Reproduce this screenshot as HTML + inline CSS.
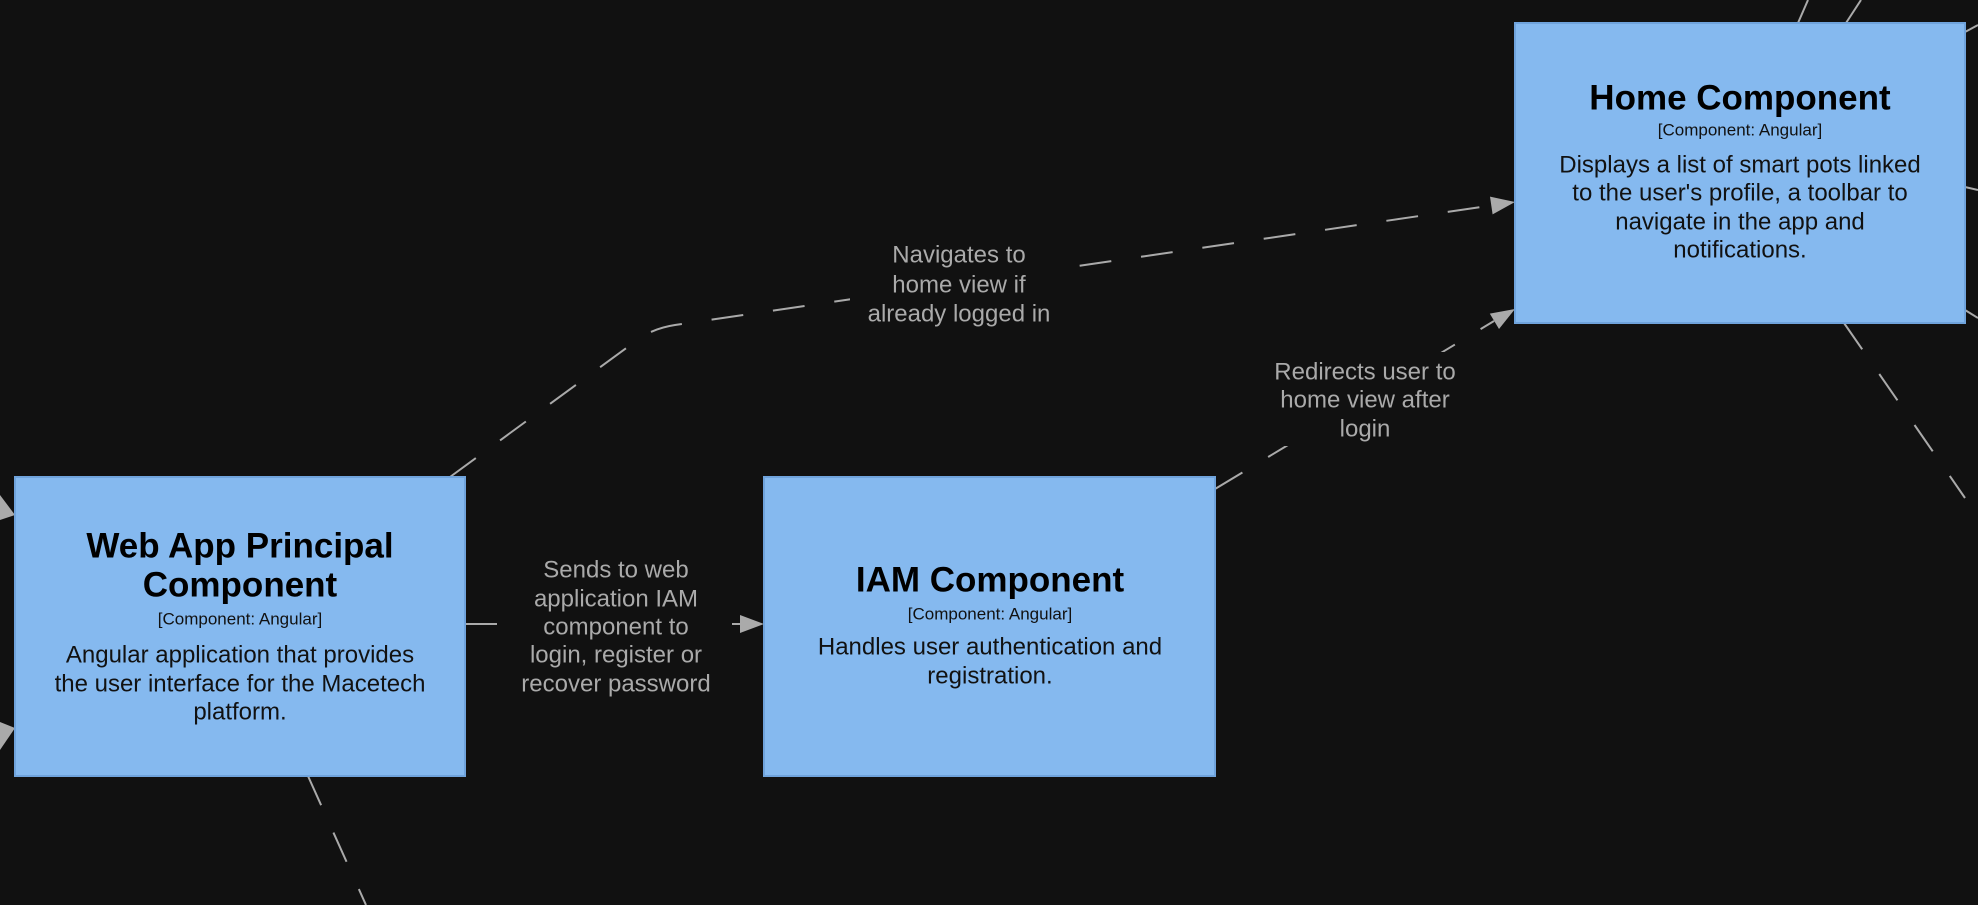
<!DOCTYPE html>
<html><head><meta charset="utf-8"><style>
html,body{margin:0;padding:0;background:#111111;}
svg{display:block;}
text{font-family:"Liberation Sans",sans-serif;}
.t{font-size:35px;font-weight:bold;fill:#000;}
.k{font-size:17px;fill:#111;}
.d{font-size:24px;fill:#111;}
.l{font-size:24px;fill:#aaaaaa;}
</style></head><body>
<svg width="1978" height="905" viewBox="0 0 1978 905" xmlns="http://www.w3.org/2000/svg">
<g stroke="#aaaaaa" stroke-width="2" fill="none" stroke-dasharray="32,30">
<path d="M450,477 L640,338 Q655,328 675,325 L1491,205.5"/>
<path d="M465,624 L740,624"/>
<path d="M1215,489 L1494,321"/>
<path d="M308,776 L366,905"/>
<path d="M1844,323 L1965,498"/>
<path d="M1808,0 L1798,23"/>
<path d="M1861,0 L1846,23"/>
<path d="M1965,32 L1978,25"/>
<path d="M1965,187 L1978,190"/>
<path d="M1965,310 L1978,318"/>
</g>
<g fill="#aaaaaa">
<path d="M1515,202 L1492.6,214.4 L1490,196.6 z"/>
<path d="M764,624 L740,615 L740,633 z"/>
<path d="M1515,309 L1499,329 L1489.8,313.6 z"/>
<path d="M0,495 L15,515 L0,520 z"/>
<path d="M0,750 L15,728 L0,722 z"/>
</g>
<rect x="500" y="552" width="232" height="150" fill="#111111"/>
<rect x="850" y="238" width="220" height="94" fill="#111111"/>
<rect x="1255" y="352" width="220" height="94" fill="#111111"/>
<rect x="15" y="477" width="450" height="299" fill="#85b9ef" stroke="#6fa3dc" stroke-width="2"/>
<rect x="764" y="477" width="451" height="299" fill="#85b9ef" stroke="#6fa3dc" stroke-width="2"/>
<rect x="1515" y="23" width="450" height="300" fill="#85b9ef" stroke="#6fa3dc" stroke-width="2"/>
<g text-anchor="middle" dominant-baseline="central">
<text class="t" x="240" y="546">Web App Principal</text>
<text class="t" x="240" y="585">Component</text>
<text class="k" x="240" y="619">[Component: Angular]</text>
<text class="d" x="240" y="655">Angular application that provides</text>
<text class="d" x="240" y="684">the user interface for the Macetech</text>
<text class="d" x="240" y="712">platform.</text>

<text class="t" x="990" y="580">IAM Component</text>
<text class="k" x="990" y="614">[Component: Angular]</text>
<text class="d" x="990" y="647">Handles user authentication and</text>
<text class="d" x="990" y="676">registration.</text>

<text class="t" x="1740" y="98">Home Component</text>
<text class="k" x="1740" y="130">[Component: Angular]</text>
<text class="d" x="1740" y="165">Displays a list of smart pots linked</text>
<text class="d" x="1740" y="193">to the user's profile, a toolbar to</text>
<text class="d" x="1740" y="222">navigate in the app and</text>
<text class="d" x="1740" y="250">notifications.</text>

<text class="l" x="616" y="570">Sends to web</text>
<text class="l" x="616" y="599">application IAM</text>
<text class="l" x="616" y="627">component to</text>
<text class="l" x="616" y="655">login, register or</text>
<text class="l" x="616" y="684">recover password</text>

<text class="l" x="959" y="255">Navigates to</text>
<text class="l" x="959" y="285">home view if</text>
<text class="l" x="959" y="314">already logged in</text>

<text class="l" x="1365" y="372">Redirects user to</text>
<text class="l" x="1365" y="400">home view after</text>
<text class="l" x="1365" y="429">login</text>
</g>
</svg>
</body></html>
